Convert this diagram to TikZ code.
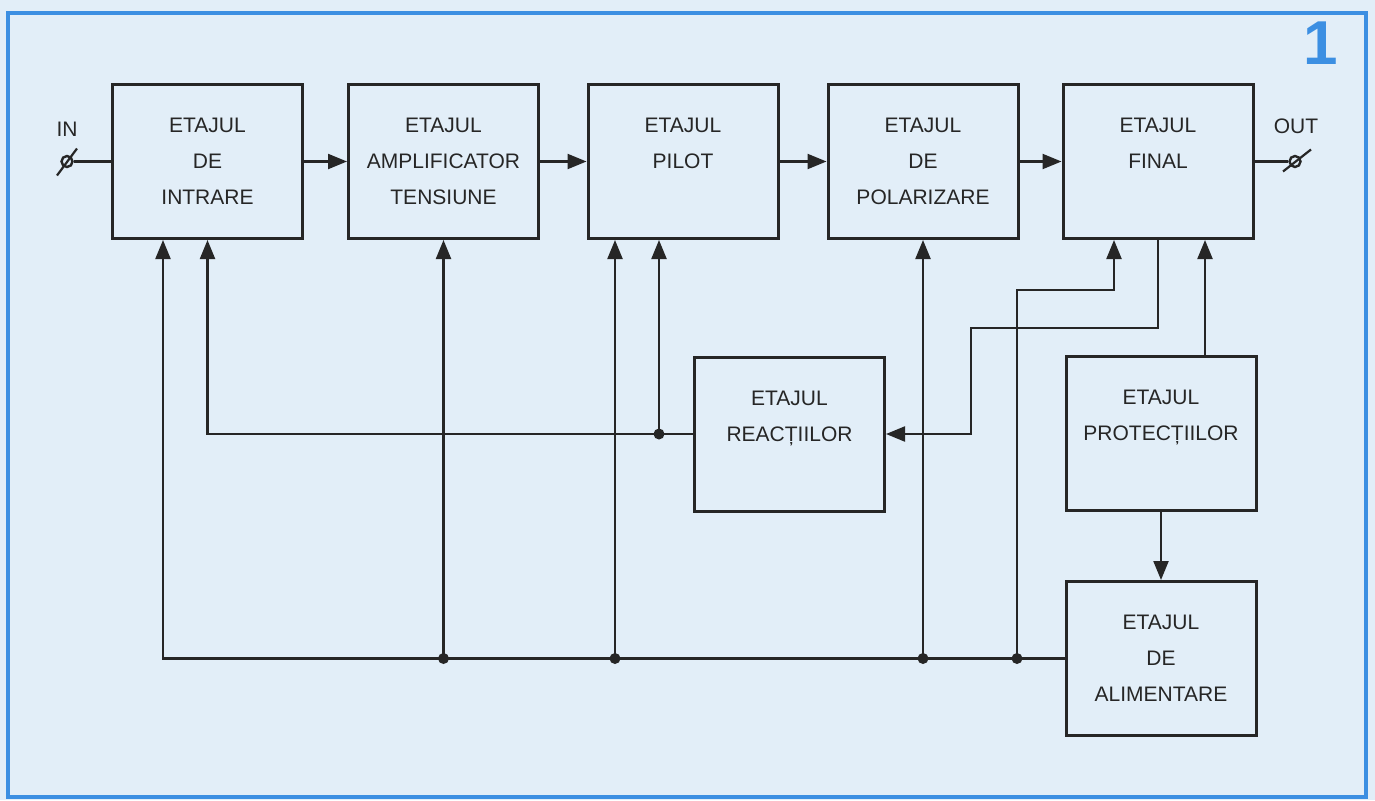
\documentclass[tikz,border=0pt]{standalone}
\usepackage{fontspec}
\setmainfont{Liberation Sans}
\usetikzlibrary{arrows.meta}
\definecolor{paperbl}{HTML}{E2EEF8}
\definecolor{framebl}{HTML}{3C8FE2}
\definecolor{ink}{HTML}{262626}

\begin{document}
\begin{tikzpicture}[x=1pt,y=-1pt,
  etaj/.style={draw=ink,line width=3pt,minimum width=190pt,minimum height=154pt,
    inner sep=0pt,align=center,text=ink,font=\fontsize{21}{36}\selectfont},
  sig/.style={draw=ink,line width=2.2pt,-{Triangle[length=19pt,width=15pt]}},
  wire/.style={draw=ink,line width=2.2pt},
  term/.style={circle,draw=ink,line width=2.4pt,minimum size=11pt,inner sep=0pt},
  lbl/.style={text=ink,font=\fontsize{21}{24}\selectfont}]
  \useasboundingbox (0,0) rectangle (1375,800);
  \fill[paperbl] (0,0) rectangle (1375,800);
  \draw[framebl,line width=4pt] (8,13) rectangle (1366,797);
  \node[text=framebl,font=\fontsize{62}{62}\selectfont\bfseries] (fignum) at (1321,43) {1};

  % stages
  \node[etaj] (intrare) at (207.5,161.5) {ETAJUL\\DE\\INTRARE};
  \node[etaj] (amplif) at (443.5,161.5) {ETAJUL\\AMPLIFICATOR\\TENSIUNE};
  \node[etaj] (pilot) at (683,161.5) {ETAJUL\\PILOT\\\mbox{}};
  \node[etaj] (polariz) at (923,161.5) {ETAJUL\\DE\\POLARIZARE};
  \node[etaj] (final) at (1158,161.5) {ETAJUL\\FINAL\\\mbox{}};
  \node[etaj] (reactii) at (789.5,434) {ETAJUL\\REACȚIILOR\\\mbox{}};
  \node[etaj] (protectii) at (1161,433.5) {ETAJUL\\PROTECȚIILOR\\\mbox{}};
  \node[etaj] (aliment) at (1161,658.5) {ETAJUL\\DE\\ALIMENTARE};

  % input / output terminals
  \node[term] (in) at (67,161.5) {};
  \node[lbl] (inlbl) at (67,129) {IN};
  \draw[wire] ([shift={(-10,14)}]in.center) -- ([shift={(10,-13)}]in.center);
  \node[term] (out) at (1295,161.5) {};
  \node[lbl] (outlbl) at (1296,126) {OUT};
  \draw[wire] ([shift={(-12,10)}]out.center) -- ([shift={(16,-12)}]out.center);

  \draw[wire] (in) -- (intrare);
  \foreach \a/\b in {intrare/amplif,amplif/pilot,pilot/polariz,polariz/final}
    \draw[sig] (\a) -- (\b);
  \draw[wire] (final) -- (out);

  \coordinate (intrareA) at ([xshift=-44.5pt]intrare.south);
  \coordinate (pilotA) at ([xshift=-68pt]pilot.south);
  \coordinate (pilotB) at ([xshift=-24pt]pilot.south);
  \coordinate (finalA) at ([xshift=-44pt]final.south);
  \coordinate (finalB) at ([xshift=47pt]final.south);
  \coordinate (jog1) at (971,328);
  \coordinate (jog2) at (1017,290);

  % supply bus
  \draw[sig] (aliment.west) -| (intrareA);
  \draw[sig] (amplif.south |- aliment.west) -- (amplif.south);
  \draw[sig] (pilotA |- aliment.west) -- (pilotA);
  \draw[sig] (polariz.south |- aliment.west) -- (polariz.south);
  \draw[sig] (jog2 |- aliment.west) -- (jog2) -| (finalA);

  % feedback
  \draw[sig] (reactii.west) -| (intrare.south);
  \draw[sig] (pilotB |- reactii.west) -- (pilotB);
  \draw[sig] (final.south) |- (jog1) |- (reactii.east);

  % protection
  \draw[sig] (protectii.north -| finalB) -- (finalB);
  \draw[sig] (protectii) -- (aliment);

  \coordinate (dotA) at (amplif.south |- aliment.west);
  \coordinate (dotB) at (pilotA |- aliment.west);
  \coordinate (dotC) at (polariz.south |- aliment.west);
  \coordinate (dotD) at (jog2 |- aliment.west);
  \coordinate (dotE) at (pilotB |- reactii.west);
  \foreach \j in {dotA,dotB,dotC,dotD,dotE}
    \fill[ink] (\j) circle (5.5pt);
\end{tikzpicture}
\end{document}
